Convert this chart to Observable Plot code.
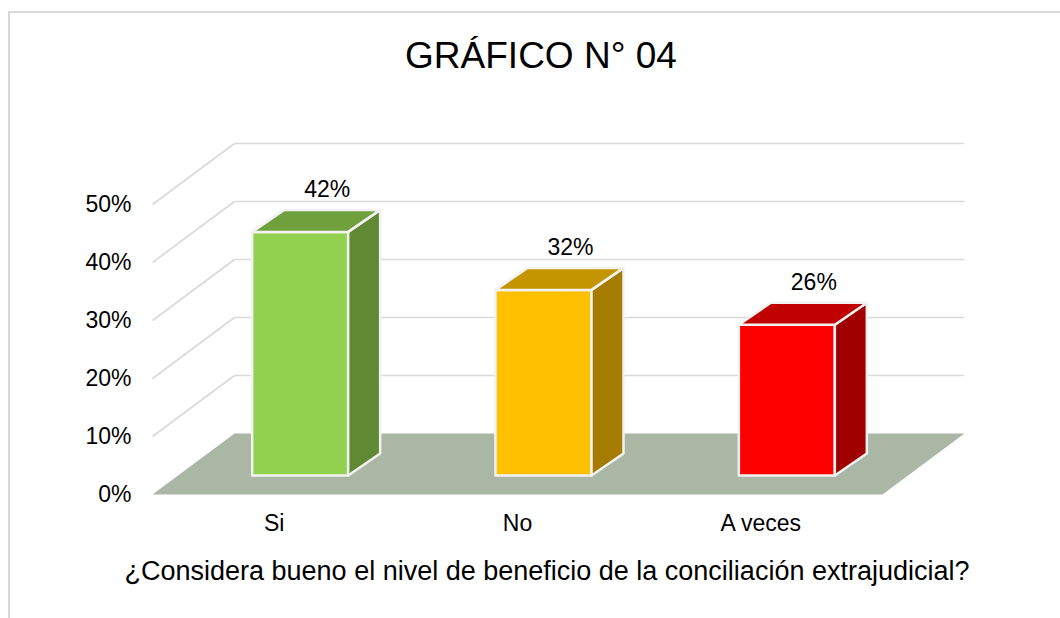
<!DOCTYPE html>
<html>
<head>
<meta charset="utf-8">
<script src="https://cdn.jsdelivr.net/npm/d3@7"></script>
<script src="https://cdn.jsdelivr.net/npm/@observablehq/plot@0.6"></script>
<style>
  html, body { margin: 0; padding: 0; background: #fff; overflow: hidden; }
  #wrap { position: relative; width: 1060px; height: 618px; font-family: "Liberation Sans", Arial, sans-serif; }
  #frame { position: absolute; left: 8px; top: 11px; width: 1100px; height: 700px; border: 2px solid #d9d9d9; box-sizing: border-box; pointer-events: none; z-index: 2; }
  #title { position: absolute; left: 0; width: 1082px; top: 37px; text-align: center; font-size: 37px; line-height: 37px; color: #000; z-index: 3; }
  #xtitle { position: absolute; left: 0; width: 1094px; top: 558px; text-align: center; font-size: 27px; line-height: 27px; color: #000; z-index: 3; }
  #chart { position: absolute; left: 0; top: 0; z-index: 1; }
</style>
</head>
<body>
<div id="wrap">
  <div id="frame"></div>
  <div id="title">GRÁFICO N° 04</div>
  <div id="chart"></div>
  <div id="xtitle">¿Considera bueno el nivel de beneficio de la conciliación extrajudicial?</div>
</div>
<script>
// ---- data ----
const categories = ["Si", "No", "A veces"];
const values = [0.42, 0.32, 0.26];
const yTicks = [0, 0.1, 0.2, 0.3, 0.4, 0.5];
const frontColors = ["#92D050", "#FFC000", "#FF0000"];
const topColors = ["#70A03C", "#C49500", "#C00000"];
const sideColors = ["#5F8A33", "#A67C00", "#A00000"];

// ---- layout ----
const W = 1060, H = 618;
const mL = 152, mR = 178, mT = 204, mB = 124;
const pxX = (W - mL - mR) / categories.length;   // px per category unit
const pxY = (H - mT - mB) / 0.5;                  // px per 1.0 value
const wallDX = 82 / pxX, wallDY = 61 / pxY;       // depth of the back wall
const barFX = 26 / pxX, barFY = 19 / pxY;         // bar front offset into depth
const barBX = 32 / pxX, barBY = 22 / pxY;         // bar depth
const barW = 96 / pxX;
const labelDX = 27 / pxX;
const nCat = categories.length;

// polygons
const polys = [];
function poly(id, fill, pts) { pts.forEach(([x, y]) => polys.push({id, fill, x, y})); }
const floorPts = [[0, 0], [nCat, 0], [nCat + wallDX, wallDY], [wallDX, wallDY]];
const floorPolys = [];
floorPts.forEach(([x, y]) => floorPolys.push({id: "floor", fill: "#AAB7A5", x, y}));

values.forEach((v, i) => {
  const x0 = i + 0.5 - barW / 2 + barFX, x1 = x0 + barW;
  const y0 = barFY, y1 = v + barFY;
  poly("front" + i, frontColors[i], [[x0, y0], [x1, y0], [x1, y1], [x0, y1]]);
  poly("side" + i, sideColors[i], [[x1, y0], [x1 + barBX, y0 + barBY], [x1 + barBX, y1 + barBY], [x1, y1]]);
  poly("top" + i, topColors[i], [[x0, y1], [x1, y1], [x1 + barBX, y1 + barBY], [x0 + barBX, y1 + barBY]]);
});

const gridT = yTicks.filter(t => t > 0);

const pct = d3.format(".0%");

const chart = Plot.plot({
  width: W,
  height: H,
  marginLeft: mL,
  marginRight: mR,
  marginTop: mT,
  marginBottom: mB,
  x: {type: "linear", domain: [0, nCat]},
  y: {type: "linear", domain: [0, 0.5]},
  color: {type: "identity"},
  style: {fontFamily: "'Liberation Sans', Arial, sans-serif", fontSize: "23px", color: "#000", background: "transparent", overflow: "visible"},
  marks: [
    // back wall gridlines
    Plot.link(gridT, {x1: wallDX, y1: t => t + wallDY, x2: nCat + wallDX, y2: t => t + wallDY, stroke: "#D9D9D9", strokeWidth: 1.6}),
    // side wall diagonal gridlines
    Plot.link(gridT, {x1: 0, y1: t => t, x2: wallDX, y2: t => t + wallDY, stroke: "#D9D9D9", strokeWidth: 1.6}),
    // floor
    Plot.line(floorPolys, {x: "x", y: "y", z: "id", fill: "fill", stroke: "none", curve: "linear-closed"}),
    // bars
    Plot.line(polys, {x: "x", y: "y", z: "id", fill: "fill", stroke: "#F2F2F2", strokeWidth: 2.5, strokeLinejoin: "round", curve: "linear-closed"}),
    // data labels
    Plot.text(values, {x: (d, i) => i + 0.5 + barFX + labelDX, y: d => d + barFY + barBY, text: d => pct(d), dy: -13, lineAnchor: "bottom", fill: "#000"}),
    Plot.axisY({ticks: yTicks, tickFormat: pct, tickSize: 0, tickPadding: 21, label: null}),
    Plot.axisX({ticks: categories.map((c, i) => i + 0.5), tickFormat: d => categories[Math.floor(d)], tickSize: 0, tickPadding: 20, label: null})
  ]
});
document.getElementById("chart").appendChild(chart);
</script>
</body>
</html>
